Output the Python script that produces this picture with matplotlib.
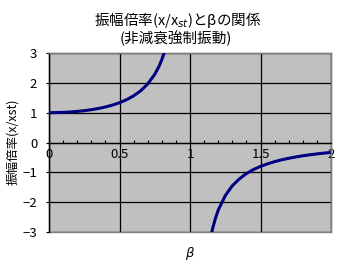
import matplotlib
matplotlib.use("Agg")
import matplotlib.pyplot as plt
from matplotlib.ticker import MultipleLocator

plt.rcParams['font.family'] = ['Noto Sans CJK JP', 'DejaVu Sans']

# values: amplitude ratio x/x_st against beta
beta_low = [0.0, 0.05, 0.1, 0.15, 0.2, 0.25, 0.3, 0.35, 0.4, 0.45, 0.5,
            0.55, 0.6, 0.65, 0.7, 0.75, 0.78, 0.8, 0.82, 0.84, 0.86]
ratio_low = [1.0, 1.003, 1.01, 1.023, 1.042, 1.067, 1.099, 1.14, 1.19, 1.254, 1.333,
             1.434, 1.563, 1.732, 1.961, 2.286, 2.55, 2.778, 3.05, 3.39, 3.84]
beta_high = [1.12, 1.14, 1.16, 1.18, 1.2, 1.25, 1.3, 1.35, 1.4, 1.45, 1.5,
             1.55, 1.6, 1.65, 1.7, 1.75, 1.8, 1.85, 1.9, 1.95, 2.0]
ratio_high = [-3.94, -3.33, -2.89, -2.55, -2.27, -1.78, -1.45, -1.22, -1.04, -0.906, -0.8,
              -0.715, -0.641, -0.581, -0.529, -0.485, -0.446, -0.412, -0.382, -0.356, -0.333]
xtick_vals = [0, 0.5, 1, 1.5, 2]
xtick_text = ['0', '0.5', '1', '1.5', '2']
ytick_vals = [-3, -2, -1, 0, 1, 2, 3]

fig = plt.figure(figsize=(3.59, 2.70), dpi=100)
ax = fig.add_axes([49/359, 38/270, 282/359, 179/270])
ax.set_facecolor('#c0c0c0')

ax.plot(beta_low, ratio_low, color='#000080', lw=2.2, solid_capstyle='butt', zorder=3)
ax.plot(beta_high, ratio_high, color='#000080', lw=2.2, solid_capstyle='butt', zorder=3)

ax.set_xlim(0, 2)
ax.set_ylim(-3, 3)
ax.set_xticks(xtick_vals)
ax.set_xticklabels(xtick_text)
ax.xaxis.set_minor_locator(MultipleLocator(0.1))
ax.set_yticks(ytick_vals)

ax.grid(True, color='black', lw=0.9)
ax.set_axisbelow(True)

ax.spines['bottom'].set_position(('data', 0))
ax.spines['bottom'].set_color('black')
ax.spines['bottom'].set_linewidth(0.9)
ax.spines['left'].set_color('black')
ax.spines['left'].set_linewidth(1.0)
for s in ['top', 'right']:
    ax.spines[s].set_color('#808080')
    ax.spines[s].set_linewidth(1.0)
ax.patch.set_edgecolor('#808080')
ax.patch.set_linewidth(1.0)

ax.tick_params(axis='x', which='both', direction='in', length=2.5, width=0.8,
               pad=4, labelsize=9.5)
ax.tick_params(axis='y', direction='out', length=2.5, width=0.8, pad=6, labelsize=9.5)

fig.text(178/359, 1 - 20/270, '振幅倍率(x/x$_{st}$)とβの関係', ha='center', va='center', fontsize=10.5)
fig.text(176/359, 1 - 38/270, '(非減衰強制振動)', ha='center', va='center', fontsize=10.5)
fig.text(13/359, 1 - 142/270, '振幅倍率(x/xst)', rotation=90, ha='center', va='center',
         fontsize=9)
fig.text(189/359, 1 - 253/270, 'β', ha='center', va='center', fontsize=9.5, style='italic',
         family='DejaVu Sans')

fig.savefig('out.png', dpi=100)
